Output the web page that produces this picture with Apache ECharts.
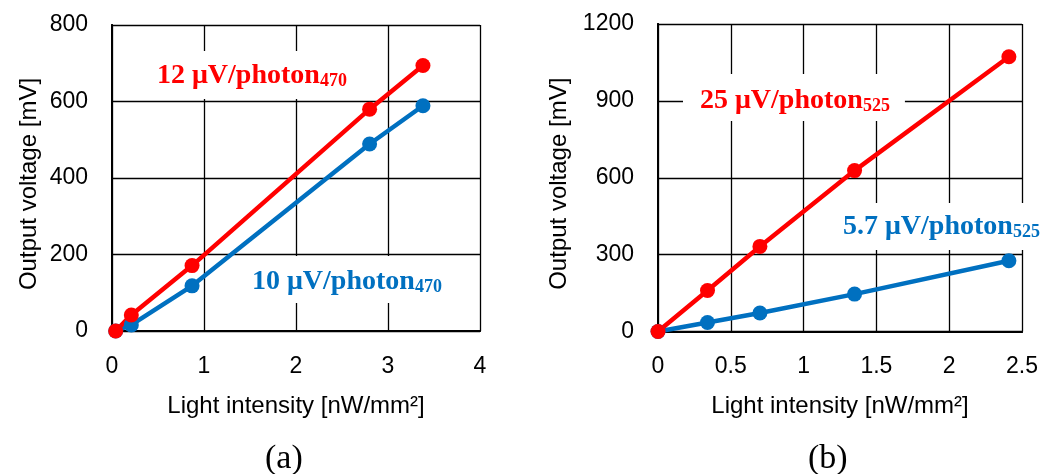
<!DOCTYPE html>
<html>
<head>
<meta charset="utf-8">
<script src="https://cdn.jsdelivr.net/npm/echarts@6/dist/echarts.min.js"></script>
<style>html,body{margin:0;padding:0;background:#fff;}#c{width:1045px;height:474px;}</style>
</head>
<body>
<div id="c"></div>
<script>
// Panel (a): 470 nm
var aX = [0.04, 0.21, 0.87, 2.80, 3.38];
var aRed = [0, 42, 171, 580, 694];
var aBlue = [0, 16, 118, 489, 589];
// Panel (b): 525 nm
var bX = [0, 0.34, 0.70, 1.35, 2.41];
var bRed = [0, 160, 332, 628, 1072];
var bBlue = [0, 35, 72, 146, 276];

var xName = 'Light intensity [nW/mm²]';
var yName = 'Output voltage [mV]';
var labelsA = ['12 μV/photon', '470', '10 μV/photon', '470'];
var labelsB = ['25 μV/photon', '525', '5.7 μV/photon', '525'];
var captions = ['(a)', '(b)'];

var RED = '#FF0000', BLUE = '#0070C0';
var SANS = '"Liberation Sans", Arial, sans-serif';
var SERIF = '"Liberation Serif", "Times New Roman", serif';

function pairs(xs, ys) { return xs.map(function (x, i) { return [x, ys[i]]; }); }

function xAxis(idx, max, interval, decimals) {
  return {
    type: 'value', gridIndex: idx, min: 0, max: max, interval: interval,
    name: xName, nameLocation: 'middle', nameGap: 63,
    nameTextStyle: { fontFamily: SANS, fontSize: 24, color: '#000' },
    axisLine: { show: true, onZero: false, lineStyle: { color: '#000', width: 2 } },
    axisTick: { show: false },
    axisLabel: { fontFamily: SANS, fontSize: 23, color: '#000', margin: 24,
      formatter: function (v) { return String(+v.toFixed(decimals)); } },
    splitLine: { show: true, lineStyle: { color: '#000', width: 1.3 } }
  };
}
function xTop(idx, max) {
  return { type: 'value', gridIndex: idx, position: 'top', min: 0, max: max,
    axisLine: { show: true, lineStyle: { color: '#000', width: 2 } },
    axisTick: { show: false }, axisLabel: { show: false }, splitLine: { show: false } };
}
function yAxis(idx, max, interval, gap) {
  return {
    type: 'value', gridIndex: idx, min: 0, max: max, interval: interval,
    name: yName, nameLocation: 'middle', nameGap: gap,
    nameTextStyle: { fontFamily: SANS, fontSize: 24, color: '#000', padding: [0, 12, 0, 0] },
    axisLine: { show: true, onZero: false, lineStyle: { color: '#000', width: 2 } },
    axisTick: { show: false },
    axisLabel: { fontFamily: SANS, fontSize: 23, color: '#000', margin: 24,
      formatter: function (v) { return String(v); } },
    splitLine: { show: true, lineStyle: { color: '#000', width: 1.3 } }
  };
}
function yRight(idx, max) {
  return { type: 'value', gridIndex: idx, position: 'right', min: 0, max: max,
    axisLine: { show: true, lineStyle: { color: '#000', width: 2 } },
    axisTick: { show: false }, axisLabel: { show: false }, splitLine: { show: false } };
}
function series(xi, yi, data, color) {
  return { type: 'line', xAxisIndex: xi, yAxisIndex: yi, data: data,
    symbol: 'circle', symbolSize: 15, showSymbol: true,
    lineStyle: { color: color, width: 4.5 }, itemStyle: { color: color },
    animation: false, z: 3 };
}
function label(left, top, pad, parts, color) {
  return {
    type: 'text', left: left, top: top, z: 10,
    style: {
      text: '{m|' + parts[0] + '}{s|' + parts[1] + '}',
      backgroundColor: '#fff', padding: pad,
      rich: {
        m: { fontFamily: SERIF, fontWeight: 'bold', fontSize: 28, fill: color, lineHeight: 30, verticalAlign: 'bottom' },
        s: { fontFamily: SERIF, fontWeight: 'bold', fontSize: 18, fill: color, lineHeight: 8, verticalAlign: 'bottom' }
      }
    }
  };
}

var chart = echarts.init(document.getElementById('c'), null, { renderer: 'canvas' });
chart.setOption({
  backgroundColor: '#fff',
  animation: false,
  grid: [
    { left: 112, top: 25, width: 368, height: 306, containLabel: false },
    { left: 658, top: 24, width: 364, height: 307.5, containLabel: false }
  ],
  xAxis: [xAxis(0, 4, 1, 0), xAxis(1, 2.5, 0.5, 1), xTop(0, 4), xTop(1, 2.5)],
  yAxis: [yAxis(0, 800, 200, 71), yAxis(1, 1200, 300, 87), yRight(0, 800), yRight(1, 1200)],
  series: [
    series(0, 0, pairs(aX, aBlue), BLUE),
    series(0, 0, pairs(aX, aRed), RED),
    series(1, 1, pairs(bX, bBlue), BLUE),
    series(1, 1, pairs(bX, bRed), RED)
  ],
  graphic: [
    label(150, 51, [9, 8, 9, 7], labelsA.slice(0, 2), RED),
    label(245, 256, [10, 15, 7, 7], labelsA.slice(2, 4), BLUE),
    label(683, 74, [11, 15, 6, 17], labelsB.slice(0, 2), RED),
    label(830, 203, [8, 0, 9, 13], labelsB.slice(2, 4), BLUE),
    { type: 'text', left: 265, top: 442, style: { text: captions[0], fontFamily: SERIF, fontSize: 34, fill: '#000' } },
    { type: 'text', left: 808, top: 442, style: { text: captions[1], fontFamily: SERIF, fontSize: 34, fill: '#000' } }
  ]
});
</script>
</body>
</html>
